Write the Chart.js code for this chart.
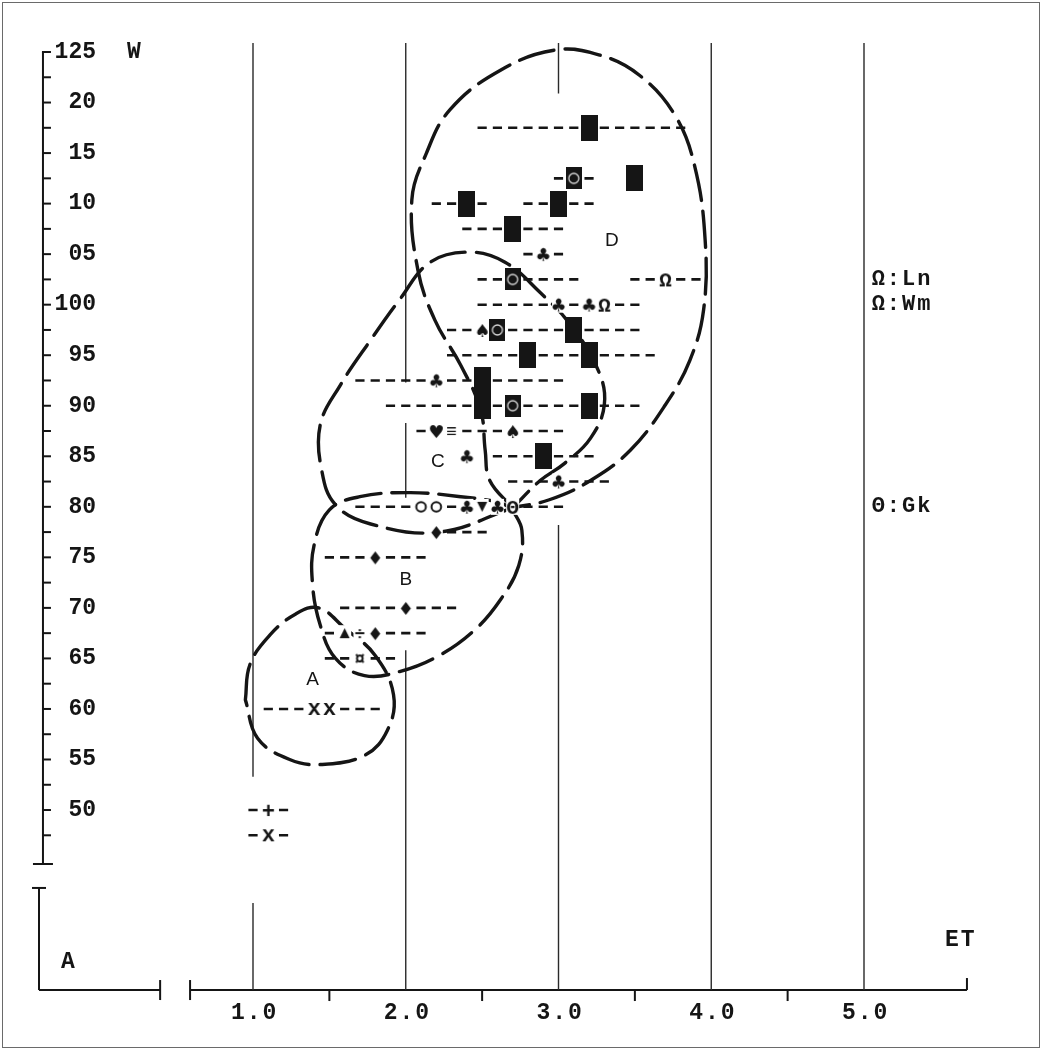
<!DOCTYPE html>
<html>
<head>
<meta charset="utf-8">
<title>W / ET</title>
<script src="https://cdn.jsdelivr.net/npm/chart.js@4.4.0/dist/chart.umd.min.js"></script>
<style>
  html, body { margin: 0; padding: 0; background: #fff; }
  #wrap { width: 1042px; height: 1050px; }
</style>
</head>
<body>
<div id="wrap"><canvas id="plot" width="1042" height="1050"></canvas></div>
<script>
// tick marks and labels
const yTicks = [125, 120, 115, 110, 105, 100, 95, 90, 85, 80, 75, 70, 65, 60, 55, 50];
const yTickLabels = ['125', '20', '15', '10', '05', '100', '95', '90', '85', '80', '75', '70', '65', '60', '55', '50'];
const yMinorTicks = [122.5, 117.5, 112.5, 107.5, 102.5, 97.5, 92.5, 87.5, 82.5, 77.5, 72.5, 67.5, 62.5, 57.5, 52.5, 47.5];
const xTicks = [1, 2, 3, 4, 5];
const xTickLabels = ['1.0', '2.0', '3.0', '4.0', '5.0'];
const xMinorTicks = [1.5, 2.5, 3.5, 4.5];

// dashed ranges (W row, first and last dash of the row in ET)
const rangeW  = [117.5, 112.5, 110, 110, 107.5, 105, 102.5, 102.5, 100, 97.5, 95, 92.5, 90, 87.5, 85, 82.5, 80, 77.5, 75, 70, 67.5, 65, 60, 50, 47.5];
const rangeLo = [2.5, 3.0, 2.2, 2.8, 2.4, 2.8, 2.5, 3.5, 2.5, 2.3, 2.3, 1.7, 1.9, 2.1, 2.6, 2.7, 1.7, 2.2, 1.5, 1.6, 1.5, 1.5, 1.1, 1.0, 1.0];
const rangeHi = [3.8, 3.2, 2.5, 3.2, 3.0, 3.0, 3.1, 3.9, 3.5, 3.5, 3.6, 3.0, 3.5, 3.0, 3.2, 3.3, 3.0, 2.5, 2.1, 2.3, 2.1, 1.9, 1.8, 1.2, 1.2];

// symbols
const markET  = [3.2, 3.1, 3.5, 2.4, 3.0, 2.7, 2.9, 2.7, 3.7, 3.0, 3.2, 3.3, 2.5, 2.6, 3.1, 2.8, 3.2, 2.2, 2.5, 2.5, 2.7, 3.2, 2.2, 2.3, 2.7, 2.4, 2.9, 3.0, 2.1, 2.2, 2.4, 2.5, 2.6, 2.7, 2.2, 1.8, 2.0, 1.6, 1.7, 1.8, 1.7, 1.4, 1.5, 1.1, 1.1];
const markW   = [117.5, 112.5, 112.5, 110, 110, 107.5, 105, 102.5, 102.5, 100, 100, 100, 97.5, 97.5, 97.5, 95, 95, 92.5, 92.5, 90, 90, 90, 87.5, 87.5, 87.5, 85, 85, 82.5, 80, 80, 80, 80, 80, 80, 77.5, 75, 70, 67.5, 67.5, 67.5, 65, 60, 60, 50, 47.5];
const markSym = ['■', '⊡', '■', '■', '■', '■', '♣', '⊡', 'Ω', '♣', '♣', 'Ω', '♠', '⊡', '■', '■', '■', '♣', '■', '■', '⊡', '■', '♥', '≡', '♠', '♣', '■', '♣', '○', '○', '♣', '▼', '♣', 'Θ', '♦', '♦', '♦', '▲', '÷', '♦', '¤', 'x', 'x', '+', 'x'];

// group outlines [ET, W]
const loopA = [[0.95, 60.9], [0.98, 64.4], [1.11, 67.3], [1.28, 69.4], [1.43, 70.0], [1.60, 68.0], [1.80, 65.3], [1.92, 61.4], [1.88, 57.9], [1.73, 55.4], [1.44, 54.5], [1.24, 55.0], [1.03, 57.1], [0.95, 60.9]];
const loopB = [[2.70, 79.7], [2.76, 77.7], [2.74, 74.2], [2.62, 70.8], [2.45, 67.8], [2.22, 65.3], [1.96, 63.7], [1.73, 63.3], [1.54, 65.0], [1.44, 68.3], [1.39, 72.3], [1.40, 76.2], [1.50, 79.7], [1.70, 81.0], [2.03, 81.4], [2.36, 81.0], [2.62, 80.4], [2.70, 79.7]];
const loopC = [[2.70, 79.9], [2.22, 77.5], [1.77, 78.3], [1.54, 80.2], [1.45, 83.6], [1.44, 88.1], [1.57, 92.0], [1.77, 96.5], [1.96, 100.5], [2.16, 104.2], [2.42, 105.2], [2.65, 104.2], [2.88, 101.2], [3.08, 98.0], [3.26, 93.5], [3.30, 90.1], [3.21, 86.8], [3.04, 84.3], [2.88, 82.6], [2.70, 79.9]];
const loopD = [[2.70, 79.9], [2.55, 82.6], [2.52, 85.6], [2.49, 89.6], [2.36, 94.0], [2.19, 98.5], [2.08, 103.4], [2.04, 110.4], [2.13, 114.8], [2.29, 119.3], [2.62, 123.2], [2.98, 125.2], [3.27, 124.7], [3.53, 122.7], [3.76, 118.8], [3.89, 113.8], [3.96, 106.4], [3.95, 99.5], [3.86, 94.5], [3.70, 90.1], [3.47, 85.6], [3.21, 82.6], [2.94, 80.7], [2.70, 79.9]];

const groupNames = ['A', 'B', 'C', 'D'];
const groupET = [1.39, 2.0, 2.21, 3.35];
const groupW = [62.9, 72.8, 84.5, 106.3];

const legendText = ['Ω:Ln', 'Ω:Wm', 'Θ:Gk'];
const legendW = [102.5, 100, 80];

// vertical lines at whole ET, broken where the rows run through
const gridET     = [1, 1, 2, 2, 2, 3, 3, 4, 5];
const gridTop    = [125.9, 40.8, 125.9, 88.3, 65.8, 125.9, 78.2, 125.9, 125.9];
const gridBottom = [53.3, 32.2, 92.3, 80.9, 32.2, 120.9, 32.2, 32.2, 32.2];

const INK = '#151515';
const MONO = '"Liberation Mono", "DejaVu Sans Mono", monospace';

function glyph(sym) {
  const c = document.createElement('canvas');
  const g = c.getContext('2d');
  if (sym === '■') {
    c.width = 17; c.height = 26;
    g.fillStyle = INK;
    g.fillRect(0, 0, 17, 26);
    return c;
  }
  if (sym === '⊡') {
    c.width = 16; c.height = 22;
    g.fillStyle = INK;
    g.fillRect(0, 0, 16, 22);
    g.strokeStyle = '#d8d8d8';
    g.lineWidth = 1.3;
    g.beginPath(); g.arc(8, 11, 5, 0, Math.PI * 2); g.stroke();
    return c;
  }
  c.width = 15; c.height = 20;
  g.fillStyle = '#fff';
  g.fillRect(1, 2, 13, 16);
  g.fillStyle = INK;
  g.strokeStyle = INK;
  if (sym === '○') {
    g.lineWidth = 2;
    g.beginPath(); g.arc(7.5, 10, 4.8, 0, Math.PI * 2); g.stroke();
    return c;
  }
  if (sym === '▼' || sym === '▲') {
    g.beginPath();
    if (sym === '▼') { g.moveTo(2.5, 5); g.lineTo(12.5, 5); g.lineTo(7.5, 15); }
    else { g.moveTo(7.5, 5); g.lineTo(12.5, 15); g.lineTo(2.5, 15); }
    g.closePath(); g.fill();
    return c;
  }
  if ('♣♠♥♦'.includes(sym)) g.font = '18px "DejaVu Sans"';
  else if (sym === 'Ω' || sym === 'Θ') g.font = 'bold 21px ' + MONO;
  else if (sym === 'x' || sym === '+') g.font = 'bold 22px ' + MONO;
  else g.font = 'bold 18px ' + MONO;
  g.textAlign = 'center';
  g.textBaseline = 'alphabetic';
  const m = g.measureText(sym);
  const yb = 10 + (m.actualBoundingBoxAscent - m.actualBoundingBoxDescent) / 2;
  g.fillText(sym, 7.5, yb);
  return c;
}

const toPts = loop => loop.map(p => ({ x: p[0], y: p[1] }));

const gridSets = gridET.map((et, i) => ({
  data: [{ x: et, y: gridTop[i] }, { x: et, y: gridBottom[i] }],
  showLine: true, borderColor: '#2a2a2a', borderWidth: 1.4, pointRadius: 0, order: 5
}));

const rangeSets = rangeW.map((w, i) => ({
  data: [{ x: rangeLo[i] - 0.03, y: w }, { x: rangeHi[i] + 0.03, y: w }],
  showLine: true, borderColor: INK, borderWidth: 2.6, borderDash: [9.2, 6.075],
  borderCapStyle: 'butt', pointRadius: 0, order: 4
}));

const loopSets = [loopA, loopB, loopC, loopD].map(loop => ({
  data: toPts(loop),
  showLine: true, borderColor: INK, borderWidth: 3.4, borderDash: [36, 11],
  borderCapStyle: 'round', tension: 0.4, pointRadius: 0, order: 3
}));

const markSet = {
  data: markET.map((et, i) => ({ x: et, y: markW[i] })),
  showLine: false, pointStyle: markSym.map(glyph), pointRadius: 8, order: 1
};

const frameAxes = {
  id: 'frameAxes',
  beforeDraw(chart) {
    const ctx = chart.ctx;
    ctx.save();
    ctx.fillStyle = '#fff';
    ctx.fillRect(0, 0, chart.width, chart.height);
    ctx.strokeStyle = '#6a6a6a';
    ctx.lineWidth = 1;
    ctx.strokeRect(2.5, 2.5, chart.width - 5, chart.height - 5);
    ctx.restore();
  },
  beforeDatasetsDraw(chart) {
    const { ctx, scales: { x, y } } = chart;
    const px = v => x.getPixelForValue(v), py = v => y.getPixelForValue(v);
    const seg = (x1, y1, x2, y2) => { ctx.beginPath(); ctx.moveTo(x1, y1); ctx.lineTo(x2, y2); ctx.stroke(); };
    ctx.save();
    ctx.strokeStyle = INK;
    ctx.lineWidth = 2;
    const ax = px(-0.375);
    seg(ax, py(125), ax, py(44.66));
    seg(ax - 1, py(125), ax + 7, py(125));
    seg(ax - 10, py(44.66), ax + 10, py(44.66));
    yTicks.concat(yMinorTicks).forEach(v => seg(ax, py(v), ax + 8, py(v)));
    // lower broken piece
    const bx = px(-0.401), base = py(32.19);
    seg(bx - 7, py(42.29), bx + 7, py(42.29));
    seg(bx, py(42.29), bx, base);
    seg(bx, base, px(0.392), base);
    seg(px(0.392), base - 10, px(0.392), base + 10);
    // ET axis
    seg(px(0.588), base - 10, px(0.588), base + 10);
    seg(px(0.588), base, px(5.674), base);
    seg(px(5.674), base - 12, px(5.674), base);
    xMinorTicks.forEach(v => seg(px(v), base, px(v), base + 11));
    ctx.restore();
  },
  afterDatasetsDraw(chart) {
    const { ctx, scales: { x, y } } = chart;
    const px = v => x.getPixelForValue(v), py = v => y.getPixelForValue(v);
    const base = py(32.19);
    ctx.save();
    ctx.fillStyle = INK;
    ctx.textBaseline = 'middle';
    ctx.font = 'bold 23px ' + MONO;
    ctx.textAlign = 'right';
    yTicks.forEach((v, i) => ctx.fillText(yTickLabels[i], 96, py(v)));
    ctx.textAlign = 'left';
    ctx.fillText('W', 127, py(125));
    ctx.letterSpacing = '2px';
    xTicks.forEach((v, i) => ctx.fillText(xTickLabels[i], px(v) - 22, base + 23));
    ctx.fillText('ET', 945, base - 50);
    ctx.letterSpacing = '0px';
    ctx.textAlign = 'center';
    ctx.fillText('A', 68, base - 28);
    ctx.textAlign = 'left';
    ctx.font = 'bold 22px ' + MONO;
    ctx.letterSpacing = '2px';
    legendText.forEach((t, i) => ctx.fillText(t, px(5.05), py(legendW[i])));
    ctx.letterSpacing = '0px';
    ctx.textAlign = 'center';
    ctx.font = '19px "Liberation Sans", Arial, sans-serif';
    groupNames.forEach((t, i) => ctx.fillText(t, px(groupET[i]), py(groupW[i])));
    ctx.restore();
  }
};

new Chart(document.getElementById('plot'), {
  type: 'scatter',
  data: { datasets: [...gridSets, ...rangeSets, ...loopSets, markSet] },
  options: {
    responsive: false,
    animation: false,
    events: [],
    layout: { padding: 0, autoPadding: false },
    plugins: { legend: { display: false }, tooltip: { enabled: false } },
    scales: {
      x: { type: 'linear', display: false, min: -0.6563, max: 6.1653 },
      y: { type: 'linear', display: false, min: 26.257, max: 130.145 }
    }
  },
  plugins: [frameAxes]
});
</script>
</body>
</html>
